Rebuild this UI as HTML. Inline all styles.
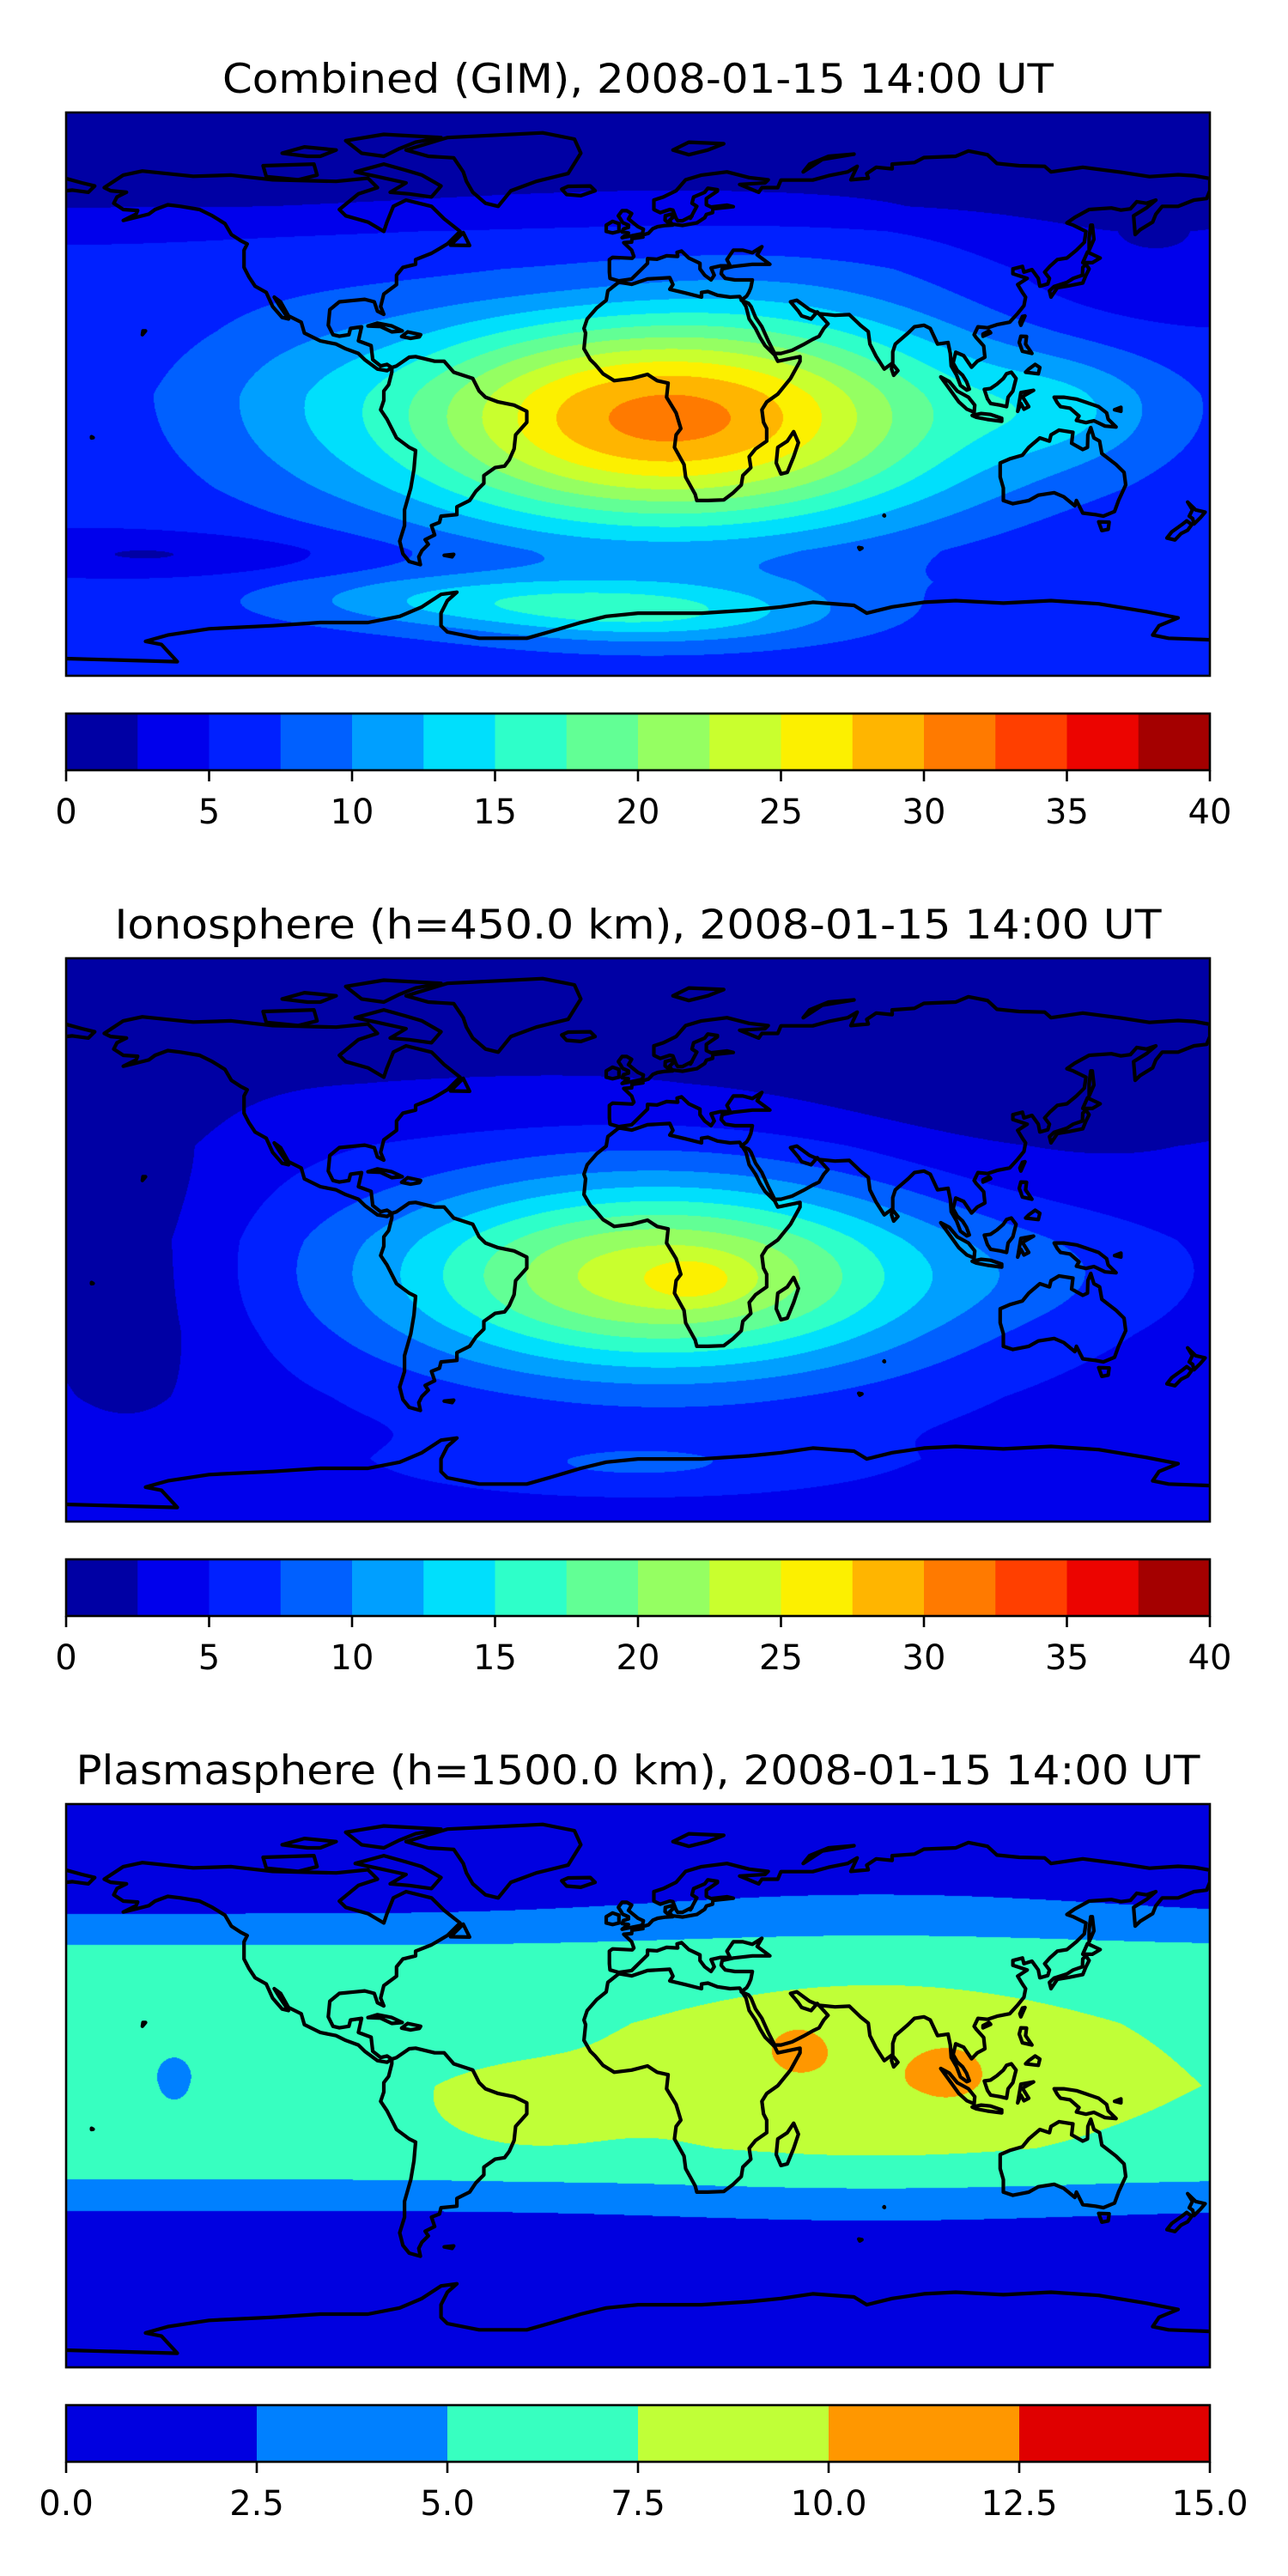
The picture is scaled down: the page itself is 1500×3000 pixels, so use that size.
<!DOCTYPE html>
<html><head><meta charset="utf-8">
<style>
html,body{margin:0;padding:0;background:#fff;}
#fig{position:relative;width:1500px;height:3000px;background:#fff;overflow:hidden;}
canvas{position:absolute;}
svg{position:absolute;left:0;top:0;}
</style></head>
<body>
<div id="fig">
<canvas id="map0" width="1332" height="656" style="left:77px;top:131px"></canvas>
<canvas id="map1" width="1332" height="656" style="left:77px;top:1116px"></canvas>
<canvas id="map2" width="1332" height="656" style="left:77px;top:2101px"></canvas>
<svg id="ov" width="1500" height="3000"></svg>
</div>
<script>
// ---------- data ----------
const titles = ["Combined (GIM), 2008-01-15 14:00 UT","Ionosphere  (h=450.0 km), 2008-01-15 14:00 UT","Plasmasphere (h=1500.0 km), 2008-01-15 14:00 UT"];
const levelsTEC = [0,2.5,5,7.5,10,12.5,15,17.5,20,22.5,25,27.5,30,32.5,35,37.5,40];
const ticksTEC = [0,5,10,15,20,25,30,35,40];
const tickLabelsTEC = ["0","5","10","15","20","25","30","35","40"];
const levelsPlasma = [0,2.5,5,7.5,10,12.5,15];
const ticksPlasma = [0,2.5,5,7.5,10,12.5,15];
const tickLabelsPlasma = ["0.0","2.5","5.0","7.5","10.0","12.5","15.0"];

const combinedBaseLat = [-90,-75,-60,-50,-30,0,20,40,52,60,90];
const combinedBaseVal = [6,6,6,5,5.8,6.2,5.8,5.8,4.5,2.4,1];
const combinedBlobLon = [10,135,5,-60,-150,-20,160,-110];
const combinedBlobLat = [-8,-5,-70,-66,-52,35,40,0];
const combinedBlobAmp = [25,4,8,5,-3,-1.5,-3,1.5];
const combinedBlobSx = [64,22,40,40,40,40,40,25];
const combinedBlobSy = [25,12,7,6,5,10,15,20];

const ionoBaseLat = [-90,-70,-50,-30,0,30,50,90];
const ionoBaseVal = [4,4.5,4,4,4.5,4,2.4,1];
const ionoBlobLon = [8,18,-160,130,130,0];
const ionoBlobLat = [-12,-13,-5,45,-10,-72];
const ionoBlobAmp = [20,3,-3.2,-2.5,1.5,3];
const ionoBlobSx = [62,10,25,55,25,40];
const ionoBlobSy = [22,5,45,25,12,6];

const plasmaBaseLat = [-90,-50,-40,-30,-20,0,20,35,45,55,90];
const plasmaBaseVal = [1,1.5,2.5,5,6.5,7,6.5,5.5,5,2.5,1];
const plasmaBlobLon = [75,50,98,-146,-35];
const plasmaBlobLat = [8,12,4,2,-8];
const plasmaBlobAmp = [3,2.8,2.8,-2.6,1.6];
const plasmaBlobSx = [55,5,6,7,20];
const plasmaBlobSy = [24,4,4.5,8,9];

// coastlines [lon,lat]
const coasts = [
[[-168,66],[-162,70],[-156,71.3],[-140,69.6],[-128,70],[-115,68.5],[-95,68],[-85,69],[-82,66],[-88,64],[-94,59],[-92,57],[-85,55],[-80,52],[-79,55],[-77,60],[-73,62],[-65,60],[-61,56],[-56,52],[-60,48],[-65,45],[-70,43],[-70,41.5],[-74,40.5],[-76,38],[-76,35],[-80,32],[-81,28],[-80,25.5],[-82,26.5],[-83,29.5],[-86,30.3],[-89,30],[-94,29.5],[-97,27],[-97.5,22],[-96,19],[-94,18.5],[-91,19],[-90.5,21],[-87,21.5],[-88,17],[-84,15.5],[-83.5,11],[-81,9],[-79,9.5],[-77.5,8.5],[-79,7.5],[-82,8],[-86,11],[-88,13],[-92,14.5],[-95,16],[-100,17],[-105,19.5],[-106,23],[-110,25],[-112.5,29.5],[-114.5,31],[-113,28.5],[-110,24],[-112,24.5],[-115,28],[-117,32.5],[-120.5,34.5],[-122.5,37.5],[-124,40.5],[-124,46],[-123,48],[-125,49],[-128,51],[-130,54.5],[-134,57],[-138,59],[-144,60],[-148,60.5],[-152,59],[-154,57.5],[-158,56.5],[-162,55.5],[-158,57.5],[-157.5,58.7],[-162,59],[-165,61],[-164,63],[-161,64.5],[-166,65],[-168,66]],
[[-73,78],[-60,82],[-30,83.5],[-20,81.5],[-18,77],[-22,70.5],[-32,68],[-40,65],[-44,60],[-48,61],[-52,64.5],[-54,68],[-55,71],[-58,75.5],[-66,76],[-73,78]],
[[-77.5,8.5],[-76,9],[-72,11.8],[-70,12],[-64,10.5],[-61,10.5],[-58,7],[-52,5],[-50,1],[-48,-1],[-44,-2.5],[-39,-3.5],[-35,-5.5],[-35,-9],[-38.5,-13],[-39,-17.5],[-40.5,-21],[-42,-23],[-45,-23.5],[-48.5,-26],[-48.5,-28.5],[-51,-31],[-53,-34],[-57,-36],[-57,-38.5],[-62,-39],[-62.5,-41],[-65,-42],[-64,-45],[-67,-46.5],[-66,-48],[-68,-50],[-69,-52],[-68.5,-54.5],[-72,-53.5],[-74,-51],[-75,-47],[-73.5,-42],[-73.5,-37],[-71.5,-30],[-70.5,-24],[-70,-18],[-72,-17],[-76,-14],[-79,-8],[-81,-5],[-80,-2],[-80,1],[-78.5,3],[-77.5,7],[-77.5,8.5]],
[[-17,21],[-16,24],[-13,27.5],[-10,30],[-9.5,33],[-6,35.8],[-2,35.1],[3,36.8],[10,37.2],[11,35],[10,33.5],[15,32.3],[20,31],[20,32.5],[22,32.8],[25,31.6],[29,31],[32,31.2],[34,28],[35,24],[37,21],[38.5,18],[40,15.5],[43,12.5],[44,10.5],[51,12],[51,10.5],[48,5],[44,0],[40.5,-2.5],[39,-5],[39.5,-9],[40.5,-11],[40.5,-15],[37,-17.5],[35,-20],[35.5,-23.5],[33,-26],[32.5,-29],[30,-31.5],[27,-33.8],[22,-34],[18.5,-34],[18,-32],[15,-26.5],[14.5,-22.5],[11.5,-17],[12,-13],[13.5,-11],[12,-6],[9,-1],[9.5,3.5],[6,4.3],[3,6.3],[-2,5],[-7.5,4.3],[-11,6.5],[-13.5,9.5],[-15,11],[-17,14.5],[-16.5,19.5],[-17,21]],
[[49,-12],[50.5,-15.5],[49,-20],[47,-25],[45,-25.5],[43.5,-22],[44,-17],[47,-15],[49,-12]],
[[-9,43],[-9,39],[-8.8,37],[-6,36.2],[-2,36.8],[0,38.8],[3,41.8],[3,43.3],[6,43.1],[9,44.2],[12.5,44],[12.3,45.3],[13.7,45.7],[16,43.5],[19.5,41.8],[19.5,40],[21,38],[23,36.5],[24,38],[23,40.3],[26,41],[29,41],[28,43],[30,46],[33,46],[36,45.2],[39,47.1],[37.5,44.5],[41.5,41.5],[36,41.5],[30,40.8],[26.5,40],[26.2,38.5],[27.5,37],[30.5,36.5],[36,36.5],[35.5,34],[34.9,32.5],[34.2,31.3],[32.5,30],[34.8,29],[35.6,28],[37,24.5],[39,21.5],[41,17],[43,13],[45,13],[48.5,14],[52,15.8],[55,17.5],[57,18.5],[58.5,21],[59.8,22.5],[56.4,26.3],[54.5,24],[51.5,25],[50.5,26.5],[48,29.5],[50,30],[54,27],[57,25.7],[62,25.2],[66.5,25.4],[68.5,23.5],[70,22],[72.5,20],[73,16],[75,12],[77.5,8],[80.2,10],[80.2,13.5],[81,16],[85,19.5],[87,21.5],[90,22],[92,21],[94.3,16],[97.6,16.5],[98.3,13],[98.6,9],[100.3,6],[101.5,2.8],[103.5,1.3],[104.3,1.6],[103.4,4],[102.2,6],[100.5,7.6],[99.2,10],[100,13.4],[102.5,12.3],[105,8.6],[106.8,10.5],[109.2,11.8],[108.8,15.4],[106.5,18],[105.8,19],[107,21.5],[110,21.2],[113,22.2],[117,23],[119.5,25.8],[121.5,28.3],[122,31],[121,32.5],[119.5,35],[122.5,37],[118,38.5],[118,40],[121,40.8],[121.5,39],[124,39.8],[126,37],[126.5,34.5],[129,35.2],[129.5,37],[128,39],[129.7,40.9],[132,43],[135,43.5],[138,46],[140.5,48.5],[141,52],[137,54],[135,54.7],[137.5,56.5],[142,59],[149,59.5],[152,58.8],[155,59.2],[157,61.5],[160,61],[163,62],[160,59.5],[156,57],[156.5,51],[158,52.5],[162,55],[163,57.5],[165,60],[170,60],[175,62],[179,62.5],[180,65],[180,68.9],[175,69.8],[170,70.1],[161,69.5],[152,70.9],[140,72.5],[130,71],[128,72.8],[120,73],[113,73.7],[110,76.5],[104,77.7],[100,76],[90,75.6],[87,74],[80,73.5],[80,72],[75,72.5],[72,70.5],[72.5,69],[67,68.5],[69,72.8],[66,71],[60,69.8],[55,68.4],[45,68.4],[44,66],[39,66],[38,64.5],[32,67],[40,67.5],[41,68.5],[35,69.2],[28,71],[20,70],[15,68.5],[12,65],[8,63],[5,62],[5,59],[7,58],[10,59],[11,58.8],[12,56.2],[12.5,55.4],[14,55.4],[17,57],[16.5,56.2],[18.5,60],[17,61],[17.5,63],[21,64.5],[22,65.8],[25,65.3],[25,64.9],[21.5,62.5],[21.5,60.5],[23,59.8],[28,60.4],[30,59.9],[23.6,59.2],[23.5,58],[21.5,57.4],[21,56.4],[18.5,54.7],[14,53.9],[10,54.4],[8.5,55.6],[8.6,57],[10.5,57.5],[10.9,56.4],[9.9,55.5],[10.9,54],[8.7,53.9],[6.2,53.5],[4.7,52.9],[3.3,51.4],[1.6,50.9],[1.6,50.2],[-1.9,49.7],[-2,48.6],[-4.5,48.4],[-2,46],[-1.3,44],[-1.8,43.4],[-8,43.7],[-9,43]],
[[-5,50],[1.4,51.3],[1.7,52.7],[0,53.5],[-3,56],[-2,57.7],[-3.5,58.6],[-5,58.6],[-6.2,57],[-5.5,56],[-4.8,54.8],[-3,54],[-3,53.3],[-4.6,52.8],[-5,51.8],[-3,51.5],[-5,50]],
[[-6,52],[-6,54.5],[-8,55.2],[-10,54],[-10,52],[-8,51.5],[-6,52]],
[[130,31],[132,34],[135.5,34.6],[140,35.5],[141,38],[142,40],[141,41.5],[140,40.5],[139.9,38],[137,37],[135,35.7],[131,34.4],[129.5,33],[130,31]],
[[140,42],[141.5,45.4],[145.5,43.5],[143,42],[140,42]],
[[142,46],[143.5,49.5],[143,54],[142.5,54],[142,50],[142,46]],
[[95.3,5.5],[98,4],[100.5,1],[104,-1],[106,-3.5],[105.8,-5.8],[103.5,-4.8],[101,-2.5],[98.5,1],[95.3,5.5]],
[[109,1.5],[110,-1.5],[111,-3],[114,-3.5],[116,-4],[116.5,-1],[118,1],[119,5],[117.5,7],[116,6.5],[115,5],[113,3.2],[111,1.8],[109,1.5]],
[[105.2,-6.8],[108,-6.2],[111,-6.5],[114.5,-7.7],[114.5,-8.7],[110,-8.1],[106.5,-7.4],[105.2,-6.8]],
[[119.5,-5.5],[120.5,0.5],[124.5,1.2],[121,-0.8],[123,-4],[121.5,-4.8],[120.5,-3],[119.5,-5.5]],
[[131,-1],[134,-1],[138,-1.6],[141,-2.6],[145,-4],[147.5,-6],[148,-8],[150.5,-10.5],[147,-10.2],[143.5,-8.5],[141,-9.1],[138,-8.4],[138.8,-7],[136,-4.5],[133,-4],[132,-2.8],[131,-1]],
[[114,-22],[114,-26.5],[115,-30],[115,-34],[118,-35],[123,-34],[126,-32.3],[131,-31.5],[134,-32.8],[137.5,-35.7],[138,-34],[140,-38],[144,-38.5],[146.5,-39],[150,-37.5],[151.3,-33.9],[153.5,-29],[153,-25],[150.5,-22.5],[146,-19],[145.3,-15],[143.5,-14],[142.5,-10.7],[141.6,-13],[141.5,-17],[140,-17.7],[136.5,-15.7],[136.9,-12.2],[132.5,-11.5],[130,-13],[129.5,-15],[126.5,-14],[123,-17],[121,-19.5],[117,-20.7],[114,-22]],
[[145,-40.8],[148.3,-40.9],[148,-43.2],[146,-43.6],[145,-40.8]],
[[173,-34.5],[175.5,-37],[178.5,-37.7],[177,-39.5],[175,-41.5],[174.6,-39.8],[173.5,-39],[174.5,-37],[173,-34.5]],
[[172.7,-40.5],[174.3,-41.7],[173,-43.5],[171,-44.5],[169,-46.6],[166.5,-46],[168,-44],[171.5,-41.5],[172.7,-40.5]],
[[-180,-84.5],[-145,-85.5],[-150,-80],[-155,-79],[-148,-77],[-135,-75],[-115,-74],[-100,-73],[-85,-73],[-75,-71],[-68,-68],[-62,-64],[-57,-63.3],[-60,-66],[-62,-70],[-62,-74],[-60,-76],[-50,-78],[-35,-78],[-28,-76],[-18,-73],[-10,-71],[0,-70],[20,-70],[35,-69],[45,-68],[55,-66.5],[68,-67.5],[72,-70],[80,-68],[90,-66.5],[100,-66],[115,-66.8],[130,-66],[145,-67],[160,-69.5],[170,-71.5],[164,-74],[162,-77],[167,-78],[180,-78.5]],
[[-80,73.5],[-73,71.5],[-68,70],[-62,66.5],[-65,63],[-72,64],[-78,64.5],[-73,67.5],[-82,69.5],[-89,71],[-80,73.5]],
[[-118,73],[-102,73.5],[-101,70],[-107,68.5],[-117,69.5],[-118,73]],
[[-80,76],[-75,78.5],[-70,80.5],[-62,82],[-80,83],[-92,81],[-87,77],[-80,76]],
[[-100,76],[-95,78],[-105,79],[-112,77],[-104,76],[-100,76]],
[[52,71],[58,75],[68,76.7],[60,76],[54,73.5],[52,71]],
[[11,78],[16,80.5],[27,80],[22,78],[16,76.5],[11,78]],
[[-24,65.5],[-22,66.4],[-15,66.5],[-13.5,65],[-18,63.4],[-22.5,63.8],[-24,65.5]],
[[120,16.5],[120.5,18.5],[122.3,18.4],[122,16],[124,13],[121,13.7],[120,16.5]],
[[122,7],[126,6.5],[126.5,8.5],[125,9.5],[123,8],[122,7]],
[[120.5,22],[121.8,25],[121,24.8],[120.2,23],[120.5,22]],
[[108.6,18.5],[111,19.6],[110.5,20.2],[108.6,19.2],[108.6,18.5]],
[[-85,21.8],[-82,22.7],[-77.5,21.8],[-74.2,20.2],[-77.5,19.9],[-81,21.6],[-85,21.8]],
[[-74.4,18.4],[-72.5,19.9],[-68.4,19],[-68.8,18.3],[-71.6,17.8],[-74.4,18.4]],
[[-59,47.6],[-55,51.6],[-53,47.5],[-59,47.6]],
[[79.8,8],[80,9.8],[81.8,7.5],[80.5,6],[79.8,8]],
[[-180,68.9],[-175,67.5],[-171,66.5],[-173,64.5],[-178,65.2],[-180,65]],
[[-156,19],[-155,20.2],[-155.8,20.2],[-156,19]],
[[-61,-51.5],[-58,-51.2],[-58.5,-52],[-61,-51.5]],
[[150,-5],[152,-4.2],[152,-5.5],[150,-5]],
[[69.5,-49],[70.5,-49.2],[69.8,-49.6],[69.5,-49]],
[[77.5,-38.7],[77.6,-38.9],[77.4,-38.8],[77.5,-38.7]],
[[-172,-13.6],[-171.5,-13.9],[-172,-14],[-172,-13.6]]
];

// ---------- geometry ----------
const MX = 77, MW = 1332, MH = 656;
const panelTops = [131, 1116, 2101];
const CBOFF = 700, CBH = 66;
function lonToX(lon){ return MX + (lon + 180) / 360 * MW; }
function latToY(top, lat){ return top + (90 - lat) / 180 * MH; }

function jet(t){
  function seg(pts){ for(let i=0;i<pts.length-1;i++){ if(t<=pts[i+1][0]){ const a=pts[i],b=pts[i+1]; return a[1]+(b[1]-a[1])*(t-a[0])/(b[0]-a[0]); } } return pts[pts.length-1][1]; }
  const r=seg([[0,0],[0.35,0],[0.66,1],[0.89,1],[1,0.5]]);
  const g=seg([[0,0],[0.125,0],[0.375,1],[0.64,1],[0.91,0],[1,0]]);
  const b=seg([[0,0.5],[0.11,1],[0.34,1],[0.65,0],[1,0]]);
  return [Math.round(r*255),Math.round(g*255),Math.round(b*255)];
}
function levelColors(levels){
  const lo=levels[0], hi=levels[levels.length-1], out=[];
  for(let i=0;i<levels.length-1;i++){ out.push(jet(((levels[i]+levels[i+1])/2-lo)/(hi-lo))); }
  return out;
}
function interp(xs, ys, x){
  if(x<=xs[0]) return ys[0];
  for(let i=0;i<xs.length-1;i++){ if(x<=xs[i+1]) return ys[i]+(ys[i+1]-ys[i])*(x-xs[i])/(xs[i+1]-xs[i]); }
  return ys[ys.length-1];
}
function drawField(canvasId, baseLat, baseVal, bLon, bLat, bAmp, bSx, bSy, levels){
  const cv=document.getElementById(canvasId), ctx=cv.getContext('2d');
  const img=ctx.createImageData(MW,MH), d=img.data;
  const cols=levelColors(levels), n=cols.length, lo=levels[0], step=levels[1]-levels[0];
  const nb=bLon.length;
  const ex=[], ey=[];
  for(let i=0;i<nb;i++){
    const ax=new Float64Array(MW), ay=new Float64Array(MH);
    for(let x=0;x<MW;x++){ const lon=-180+(x+0.5)/MW*360; const q=(lon-bLon[i])/bSx[i]; ax[x]=Math.exp(-0.5*q*q); }
    for(let y=0;y<MH;y++){ const lat=90-(y+0.5)/MH*180; const q=(lat-bLat[i])/bSy[i]; ay[y]=bAmp[i]*Math.exp(-0.5*q*q); }
    ex.push(ax); ey.push(ay);
  }
  for(let y=0;y<MH;y++){
    const lat=90-(y+0.5)/MH*180, base=interp(baseLat,baseVal,lat);
    for(let x=0;x<MW;x++){
      let v=base;
      for(let i=0;i<nb;i++) v+=ex[i][x]*ey[i][y];
      let k=Math.floor((v-lo)/step); if(k<0)k=0; if(k>n-1)k=n-1;
      const c=cols[k], p=(y*MW+x)*4;
      d[p]=c[0]; d[p+1]=c[1]; d[p+2]=c[2]; d[p+3]=255;
    }
  }
  ctx.putImageData(img,0,0);
}

drawField('map0', combinedBaseLat, combinedBaseVal, combinedBlobLon, combinedBlobLat, combinedBlobAmp, combinedBlobSx, combinedBlobSy, levelsTEC);
drawField('map1', ionoBaseLat, ionoBaseVal, ionoBlobLon, ionoBlobLat, ionoBlobAmp, ionoBlobSx, ionoBlobSy, levelsTEC);
drawField('map2', plasmaBaseLat, plasmaBaseVal, plasmaBlobLon, plasmaBlobLat, plasmaBlobAmp, plasmaBlobSx, plasmaBlobSy, levelsPlasma);

// ---------- svg overlay ----------
const NS='http://www.w3.org/2000/svg';
const ov=document.getElementById('ov');
function mk(tag, attrs, parent){ const e=document.createElementNS(NS,tag); for(const k in attrs) e.setAttribute(k,attrs[k]); (parent||ov).appendChild(e); return e; }
const titleLens=[968,1219,1309];
const panelNames=['combined','ionosphere','plasmasphere'];
const defs=mk('defs',{});
for(let p=0;p<3;p++){
  const top=panelTops[p];
  const cp=mk('clipPath',{id:'clip'+p},defs);
  mk('rect',{x:MX,y:top,width:MW,height:MH},cp);
  const t=mk('text',{x:MX+MW/2,y:top-23,'text-anchor':'middle','font-family':'DejaVu Sans, Liberation Sans, sans-serif','font-size':47,fill:'#000',textLength:titleLens[p],lengthAdjust:'spacingAndGlyphs'});
  t.textContent=titles[p];
  
  
  const g=mk('g',{'clip-path':'url(#clip'+p+')',fill:'none',stroke:'#000','stroke-width':4.2,'stroke-linejoin':'round','stroke-linecap':'round'});
  
  
  for(const poly of coasts){
    let s='';
    poly.forEach((pt,i)=>{ s+=(i?'L':'M')+lonToX(pt[0]).toFixed(1)+' '+latToY(top,pt[1]).toFixed(1); });
    const path=mk('path',{d:s},g);
    
    
  }
  const fr=mk('rect',{x:MX,y:top,width:MW,height:MH,fill:'none',stroke:'#000','stroke-width':2.6});
  
  
  const levels = p<2 ? levelsTEC : levelsPlasma;
  const ticks = p<2 ? ticksTEC : ticksPlasma;
  const labels = p<2 ? tickLabelsTEC : tickLabelsPlasma;
  const cols=levelColors(levels);
  const cbTop=top+CBOFF, lo=levels[0], hi=levels[levels.length-1];
  const cx=v=>MX+(v-lo)/(hi-lo)*MW;
  const cbg=mk('g',{});
  
  
  for(let i=0;i<cols.length;i++){
    const x0=cx(levels[i]), x1=cx(levels[i+1]);
    const r=mk('rect',{x:x0,y:cbTop,width:x1-x0+0.6,height:CBH,fill:'rgb('+cols[i].join(',')+')'},cbg);
    
    
  }
  mk('rect',{x:MX,y:cbTop,width:MW,height:CBH,fill:'none',stroke:'#000','stroke-width':2.6},cbg);
  for(let i=0;i<ticks.length;i++){
    const x=cx(ticks[i]);
    const tk=mk('line',{x1:x,x2:x,y1:cbTop+CBH,y2:cbTop+CBH+13,stroke:'#000','stroke-width':2.6},cbg);
    
    
    const lb=mk('text',{x:x,y:cbTop+CBH+62,'text-anchor':'middle','font-family':'DejaVu Sans, Liberation Sans, sans-serif','font-size':40,fill:'#000'},cbg);
    lb.textContent=labels[i];
    
    
  }
}
</script>
</body></html>
